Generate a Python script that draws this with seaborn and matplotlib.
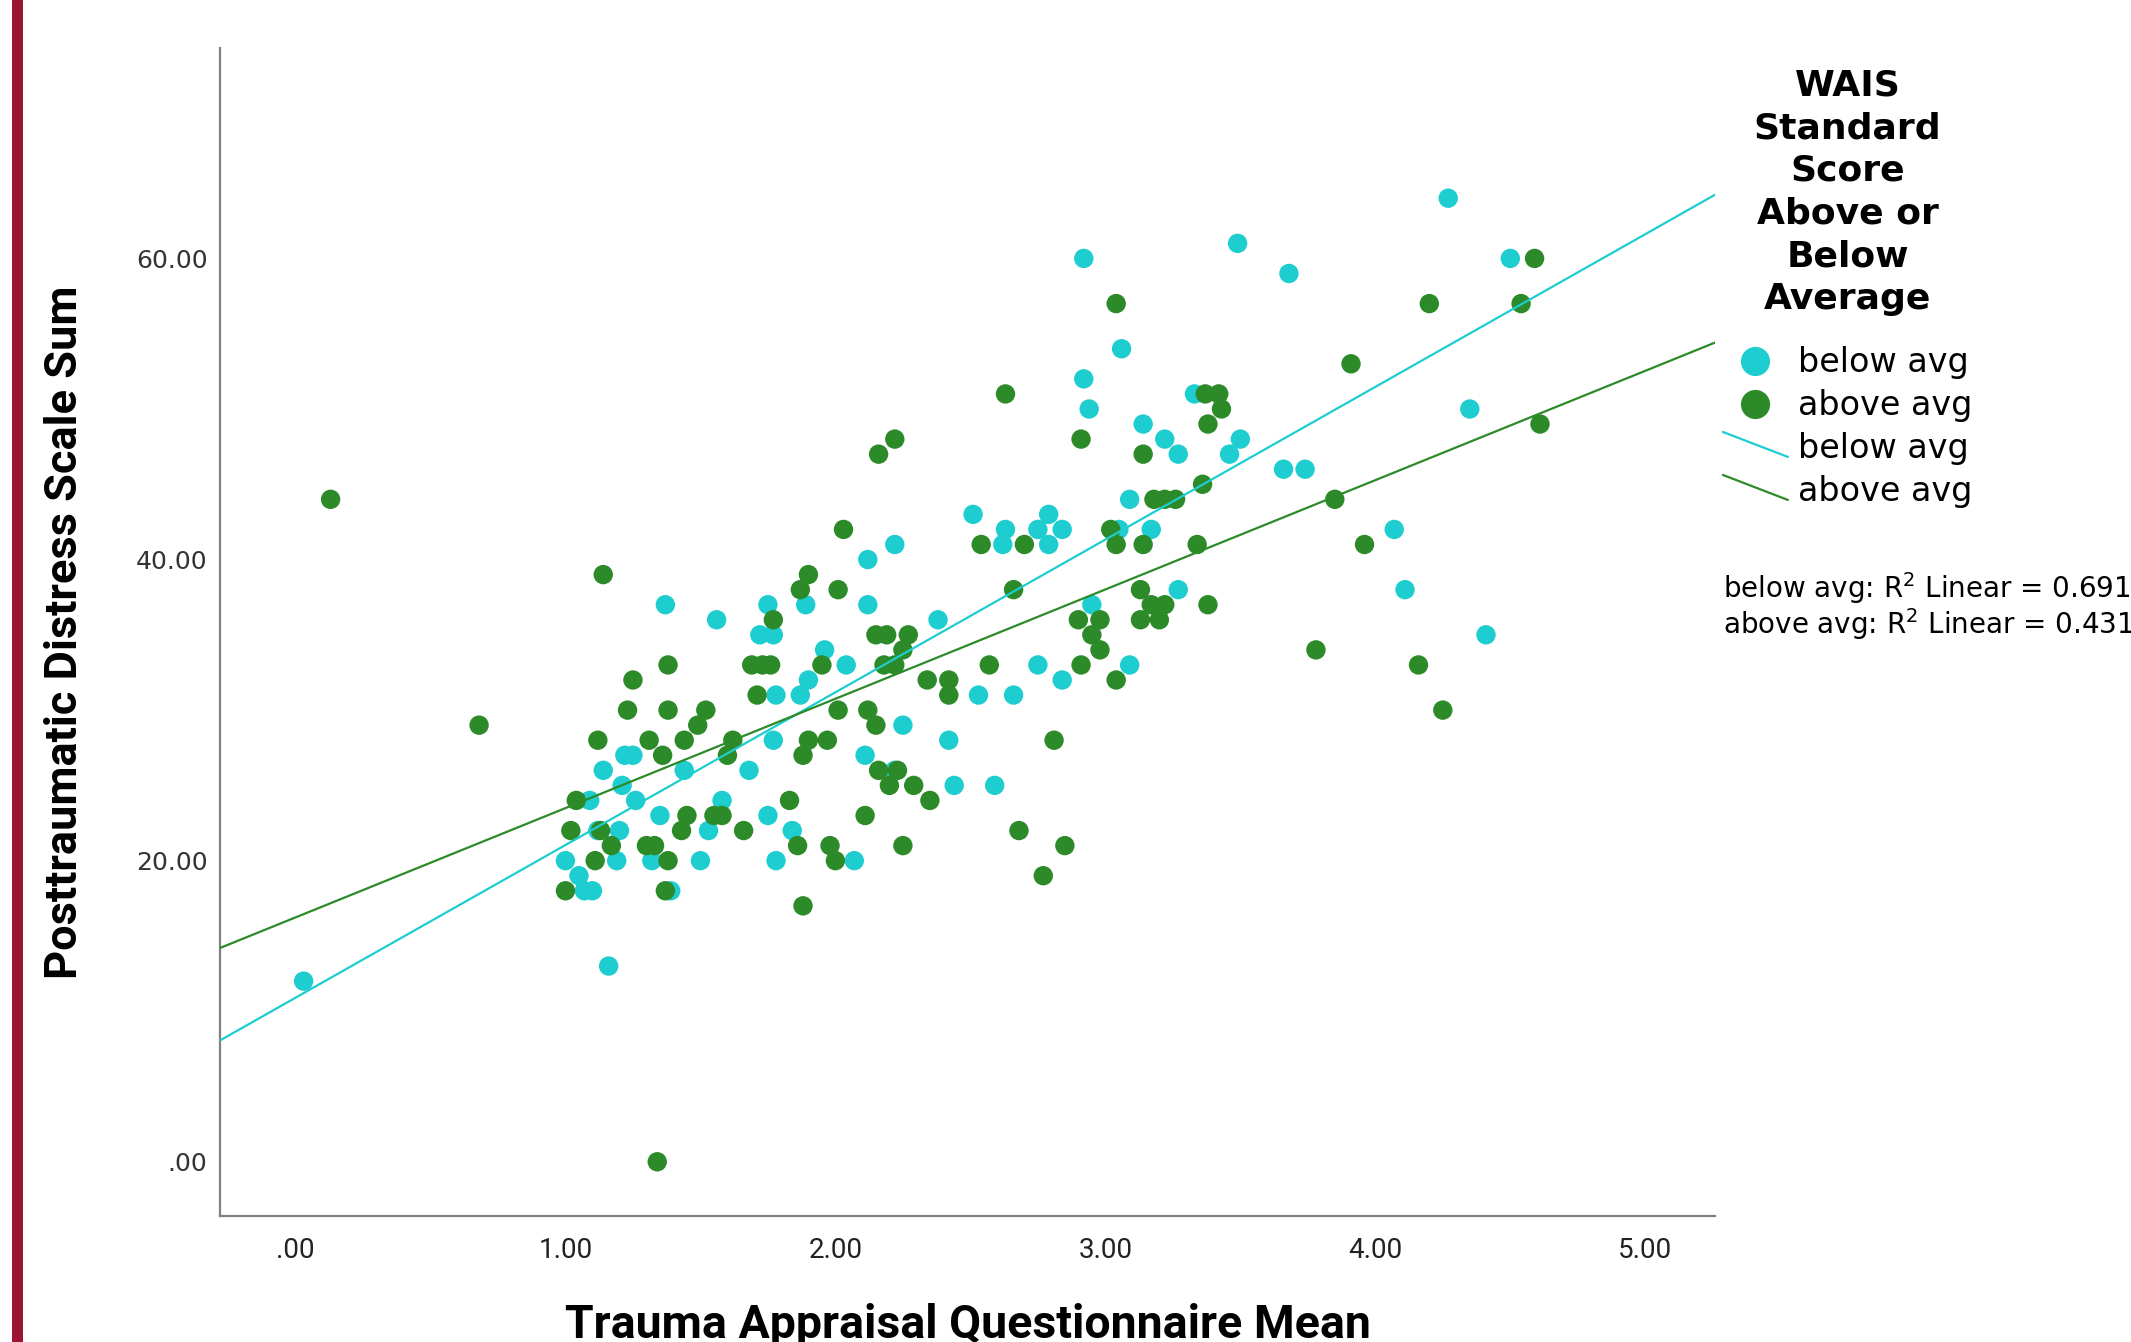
import numpy as np
import pandas as pd
import matplotlib
matplotlib.use("Agg")
import matplotlib.pyplot as plt
import seaborn as sns
from matplotlib.lines import Line2D
from matplotlib.patches import Rectangle
from matplotlib.legend_handler import HandlerBase

# Trauma Appraisal Questionnaire mean (x) and PDS sum (y)
below_x = [0.03, 4.27, 3.49, 2.92, 4.50, 3.68, 3.06, 2.92, 2.94, 4.35,
           3.14, 3.22, 3.27, 3.33, 3.46, 3.50, 3.66, 3.74, 3.09, 3.17,
           3.05, 2.51, 2.63, 2.75, 2.79, 2.84, 2.62, 2.79, 4.07, 4.11,
           4.41, 3.27, 2.95, 3.09, 2.75, 2.84, 2.66, 2.53, 2.38, 2.22,
           2.12, 2.12, 1.96, 2.04, 1.89, 1.75, 1.72, 1.77, 1.90, 1.87,
           1.78, 1.56, 1.37, 2.25, 2.42, 2.11, 2.44, 2.59, 2.22, 1.68,
           1.77, 1.58, 1.53, 1.75, 1.84, 1.78, 2.07, 1.50, 1.44, 1.25,
           1.22, 1.14, 1.26, 1.21, 1.09, 1.35, 1.12, 1.20, 1.00, 1.05,
           1.07, 1.10, 1.19, 1.32, 1.39, 1.16]
below_y = [12, 64, 61, 60, 60, 59, 54, 52, 50, 50,
           49, 48, 47, 51, 47, 48, 46, 46, 44, 42,
           42, 43, 42, 42, 43, 42, 41, 41, 42, 38,
           35, 38, 37, 33, 33, 32, 31, 31, 36, 41,
           40, 37, 34, 33, 37, 37, 35, 35, 32, 31,
           31, 36, 37, 29, 28, 27, 25, 25, 26, 26,
           28, 24, 22, 23, 22, 20, 20, 20, 26, 27,
           27, 26, 24, 25, 24, 23, 22, 22, 20, 19,
           18, 18, 20, 20, 18, 13]

above_x = [0.13, 0.68, 1.34, 1.14, 1.25, 1.38, 1.23, 1.38, 1.12, 1.31,
           1.36, 1.44, 1.49, 1.52, 1.60, 1.62, 1.69, 1.73, 1.76, 1.71,
           1.77, 1.87, 1.90, 2.01, 2.03, 2.16, 2.22, 2.63, 2.91, 3.04,
           4.20, 4.54, 4.59, 3.91, 3.37, 3.42, 3.43, 3.38, 3.36, 3.14,
           3.18, 3.22, 3.26, 3.85, 4.61, 3.96, 3.34, 3.38, 3.02, 3.04,
           3.14, 2.54, 2.70, 2.66, 3.13, 3.17, 3.22, 3.13, 3.20, 2.90,
           2.98, 2.95, 2.98, 2.91, 3.04, 3.78, 4.16, 4.25, 2.15, 2.19,
           2.27, 2.25, 2.18, 2.22, 2.34, 2.42, 2.42, 1.95, 1.97, 1.90,
           1.88, 2.01, 2.12, 2.15, 2.16, 2.23, 2.20, 2.29, 2.35, 2.57,
           2.81, 2.68, 2.85, 2.77, 2.25, 2.11, 1.98, 2.00, 1.88, 1.83,
           1.86, 1.66, 1.55, 1.58, 1.43, 1.45, 1.30, 1.33, 1.38, 1.37,
           1.17, 1.11, 1.13, 1.02, 1.04, 1.00]
above_y = [44, 29, 0, 39, 32, 33, 30, 30, 28, 28,
           27, 28, 29, 30, 27, 28, 33, 33, 33, 31,
           36, 38, 39, 38, 42, 47, 48, 51, 48, 57,
           57, 57, 60, 53, 51, 51, 50, 49, 45, 47,
           44, 44, 44, 44, 49, 41, 41, 37, 42, 41,
           41, 41, 41, 38, 38, 37, 37, 36, 36, 36,
           36, 35, 34, 33, 32, 34, 33, 30, 35, 35,
           35, 34, 33, 33, 32, 32, 31, 33, 28, 28,
           27, 30, 30, 29, 26, 26, 25, 25, 24, 33,
           28, 22, 21, 19, 21, 23, 21, 20, 17, 24,
           21, 22, 23, 23, 22, 23, 21, 21, 20, 18,
           21, 20, 22, 22, 24, 18]

groups = ["below avg", "above avg"]
r2_labels = ["below avg: R$^2$ Linear = 0.691", "above avg: R$^2$ Linear = 0.431"]
x_ticks = [0, 1, 2, 3, 4, 5]
y_ticks = [0, 20, 40, 60]

df = pd.DataFrame({
    "tap": below_x + above_x,
    "pds": below_y + above_y,
    "wais": [groups[0]] * len(below_x) + [groups[1]] * len(above_x),
})

CYAN = "#1ecdcf"
GREEN = "#2c8a29"
palette = {groups[0]: CYAN, groups[1]: GREEN}

sns.set_style("white")
plt.rcParams["font.family"] = ["DejaVu Sans"]
plt.rcParams["text.color"] = "black"
plt.rcParams["axes.labelcolor"] = "black"
NARROW = ["Roboto", "DejaVu Sans"]

fig = plt.figure(figsize=(21.31, 13.42), dpi=100)
ax = fig.add_axes([0.1032, 0.0939, 0.7018, 0.8706])
ax.set_xlim(-0.28, 5.26)
ax.set_ylim(-3.6, 74)

sns.scatterplot(data=df, x="tap", y="pds", hue="wais", palette=palette,
                s=195, linewidth=0, legend=False, ax=ax, zorder=2)
for g in groups:
    sns.regplot(data=df[df["wais"] == g], x="tap", y="pds", scatter=False,
                ci=None, truncate=False, color=palette[g],
                line_kws={"lw": 1.6, "zorder": 3}, ax=ax)
ax.set_xlim(-0.28, 5.26)
ax.set_ylim(-3.6, 74)

ax.set_xticks(x_ticks)
ax.set_xticklabels([".00" if v == 0 else f"{v:.2f}" for v in x_ticks],
                   family=NARROW, fontsize=20, color="#222222")
ax.set_yticks(y_ticks)
ax.set_yticklabels([".00" if v == 0 else f"{v:.2f}" for v in y_ticks],
                   fontsize=18, color="#333333")
ax.tick_params(axis="both", length=0)
ax.tick_params(axis="x", pad=15)
ax.tick_params(axis="y", pad=9)

for side in ["top", "right"]:
    ax.spines[side].set_visible(False)
for side in ["left", "bottom"]:
    ax.spines[side].set_color("#808080")
    ax.spines[side].set_linewidth(1.6)

ax.set_xlabel("Trauma Appraisal Questionnaire Mean", family=NARROW,
              fontsize=33.5, fontweight="bold")
ax.xaxis.set_label_coords(0.5, -0.1045)
ax.xaxis.label.set_va("baseline")
ax.set_ylabel("Posttraumatic Distress Scale Sum", family=NARROW,
              fontsize=32.5, fontweight="bold")
ax.yaxis.set_label_coords(-0.1036, 0.5)
ax.yaxis.label.set_va("center")


class SlantLine(HandlerBase):
    def create_artists(self, legend, orig_handle, xdescent, ydescent,
                       width, height, fontsize, trans):
        mid = height / 2 - ydescent
        ln = Line2D([-xdescent, width - xdescent], [mid + 10.5, mid - 7.5],
                    color=orig_handle.get_color(),
                    lw=orig_handle.get_linewidth(), transform=trans)
        return [ln]


h_pts = [Line2D([], [], ls="", marker="o", ms=21, color=palette[g], mec="none")
         for g in groups]
h_lns = [Line2D([], [], color=palette[g], lw=1.6) for g in groups]
leg = fig.legend(h_pts + h_lns, groups + groups,
                 handler_map={h: SlantLine() for h in h_lns},
                 loc="upper left", bbox_to_anchor=(0.8085, 0.949),
                 frameon=False, fontsize=24,
                 title="WAIS\nStandard\nScore\nAbove or\nBelow\nAverage",
                 title_fontproperties={"weight": "bold", "size": 26},
                 handlelength=1.95, handletextpad=0.3, labelspacing=0.3,
                 borderpad=0, borderaxespad=0)
leg.get_title().set_multialignment("center")
leg.get_title().set_linespacing(1.32)
leg._legend_box.sep = 22

fig.text(0.8085, 1 - 588 / 1342, r2_labels[0], fontsize=20, va="center", ha="left")
fig.text(0.8085, 1 - 624 / 1342, r2_labels[1], fontsize=20, va="center", ha="left")

# crimson bar along the left edge
fig.patches.append(Rectangle((12 / 2131, 0), 11 / 2131, 1, transform=fig.transFigure,
                             facecolor="#9b1431", edgecolor="none", zorder=5))

fig.savefig("out.png", dpi=100)
